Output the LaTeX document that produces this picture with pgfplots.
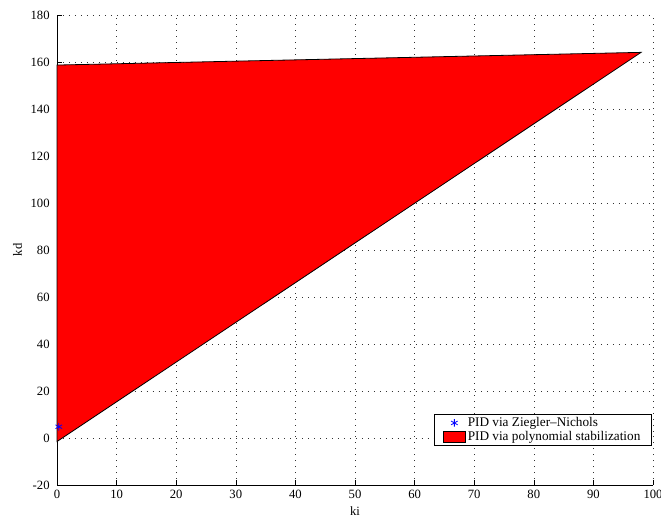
\documentclass[border=0pt]{standalone}
\usepackage{fontspec}
\setmainfont{Liberation Serif}
\usepackage{pgfplots}
\pgfplotsset{compat=1.18}
\newcommand{\plotfont}{\fontsize{12.7}{14}\selectfont}
\newcommand{\legfont}{\fontsize{13.3}{15}\selectfont}
\pgfplotsset{
  star legend/.style={legend image code/.code={\draw[##1] plot coordinates {(11bp,0bp)};}},
  box legend/.style={legend image code/.code={\draw[##1, line width=0.8pt] (0bp,-5.5bp) rectangle (22bp,5.5bp);}},
}
\begin{document}
\plotfont
\begin{tikzpicture}
\useasboundingbox (-57bp,-33bp) rectangle (604bp,485bp);
\begin{axis}[
  at={(0,0)}, anchor=south west,
  scale only axis,
  width=596bp, height=470bp,
  xmin=0, xmax=100, ymin=-20, ymax=180,
  xtick={0,10,...,100}, ytick={-20,0,...,180},
  axis x line*=bottom, axis y line*=left,
  axis line style={-, line width=0.7pt},
  tick align=inside,
  major tick length=5pt,
  tick style={black, line width=0.6pt},
  grid=major,
  major grid style={black!80, dash pattern=on 0.7pt off 5.3pt, line width=0.6pt},
  xlabel={ki}, ylabel={kd},
  xlabel style={yshift=1pt},
  xticklabel style={yshift=-1pt},
  yticklabel style={xshift=-3pt},
  /pgf/number format/assume math mode=true,
  ticklabel style={font=\plotfont},
  label style={font=\plotfont},
  legend style={at={(0.998,0.083)}, anchor=south east, draw=black, line width=0.9pt,
    font=\legfont, row sep=-1pt, inner xsep=9bp, inner ysep=1pt,
    /tikz/every even column/.append style={column sep=6pt}},
  legend cell align=left,
  clip=false,
]
% Ziegler--Nichols tuning point
\addplot[only marks, mark=asterisk, mark size=3.8pt, blue, line width=0.8pt, star legend]
  coordinates {(0.3,4.8)};
\addlegendentry{PID via Ziegler--Nichols}
% stabilizing (ki, kd) region
\addplot[fill=red, draw=black, line width=0.8pt, box legend]
  coordinates {(0,-1.5) (0,158.7) (98,164.1) (0,-1.5)} \closedcycle;
\addlegendentry{PID via polynomial stabilization}
\end{axis}
\end{tikzpicture}
\end{document}
